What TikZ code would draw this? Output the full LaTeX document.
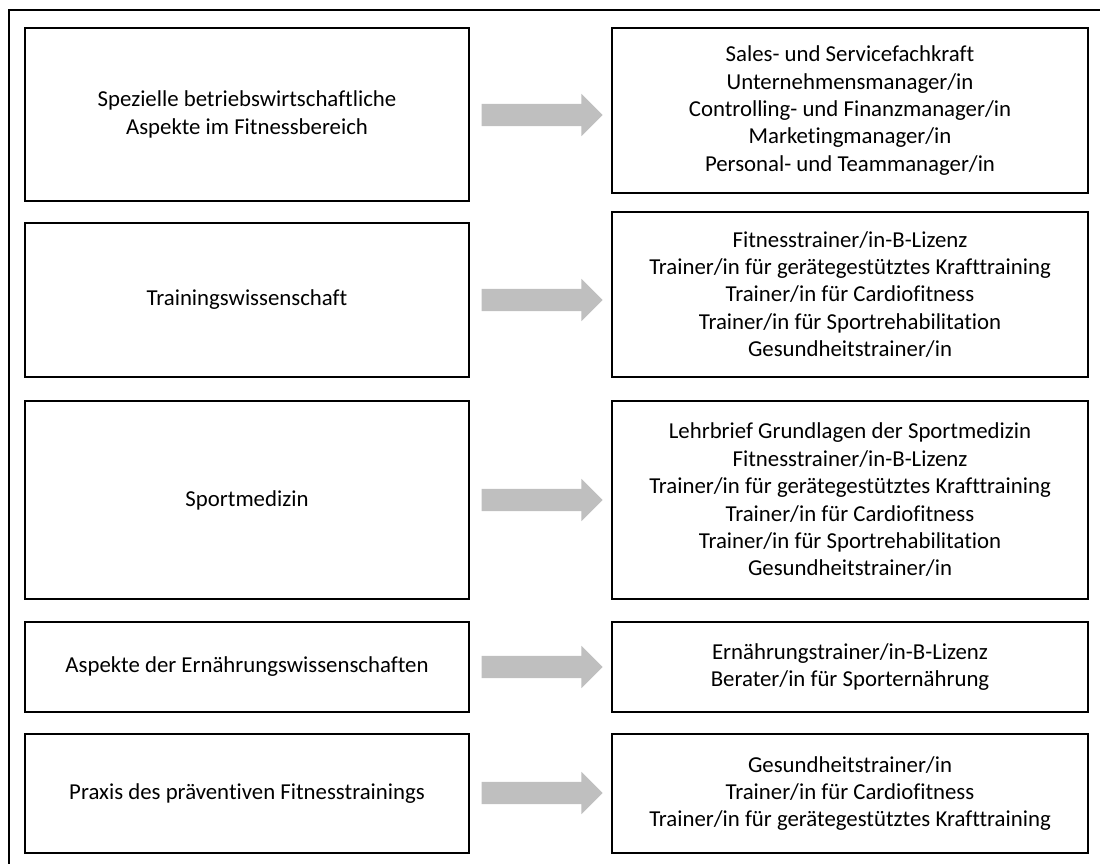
\documentclass[tikz,border=0pt]{standalone}
\usepackage{fontspec}
\setmainfont{Carlito}[Ligatures=NoCommon]
\usetikzlibrary{shapes.arrows}
\begin{document}
\begin{tikzpicture}[x=1pt,y=-1pt,
  box/.style={draw=black,line width=1.6pt,fill=white,align=center,inner sep=0pt,
    font=\fontsize{22.8}{27.4}\selectfont},
  lbox/.style={box,minimum width=444pt},
  rbox/.style={box,minimum width=476pt},
  blockarrow/.style={single arrow,fill=arrowgray,draw=none,inner sep=0pt,
    text height=22pt,text depth=0pt,
    minimum height=121pt,minimum width=42pt,single arrow head extend=10pt,
    single arrow tip angle=90},
  frame/.style={line width=2pt,draw=black}]
\definecolor{arrowgray}{HTML}{BFBFBF}
\useasboundingbox (0,0) rectangle (1100,864);
\draw[frame] (1101,10) -- (9,10) -- (9,865);
% row 1
\node[lbox,minimum height=173pt] (l1) at (247,114.5) {Spezielle betriebswirtschaftliche\\Aspekte im Fitnessbereich};
\node[rbox,minimum height=165pt] (r1) at (850,110.5) {Sales- und Servicefachkraft\\Unternehmensmanager/in\\Controlling- und Finanzmanager/in\\Marketingmanager/in\\Personal- und Teammanager/in};
\node[blockarrow] (a1) at (536.5,115) {};
% row 2
\node[lbox,minimum height=154pt] (l2) at (247,300) {Trainingswissenschaft};
\node[rbox,minimum height=165pt] (r2) at (850,294.5) {Fitnesstrainer/in-B-Lizenz\\Trainer/in für gerätegestütztes Krafttraining\\Trainer/in für Cardiofitness\\Trainer/in für Sportrehabilitation\\Gesundheitstrainer/in};
\node[blockarrow] (a2) at (536.5,300) {};
% row 3
\node[lbox,minimum height=198pt] (l3) at (247,500) {Sportmedizin};
\node[rbox,minimum height=198pt] (r3) at (850,500) {Lehrbrief Grundlagen der Sportmedizin\\Fitnesstrainer/in-B-Lizenz\\Trainer/in für gerätegestütztes Krafttraining\\Trainer/in für Cardiofitness\\Trainer/in für Sportrehabilitation\\Gesundheitstrainer/in};
\node[blockarrow] (a3) at (536.5,500) {};
% row 4
\node[lbox,minimum height=90pt] (l4) at (247,667) {Aspekte der Ernährungswissenschaften};
\node[rbox,minimum height=90pt] (r4) at (850,667) {Ernährungstrainer/in-B-Lizenz\\Berater/in für Sporternährung};
\node[blockarrow] (a4) at (536.5,667) {};
% row 5
\node[lbox,minimum height=119pt] (l5) at (247,793.5) {Praxis des präventiven Fitnesstrainings};
\node[rbox,minimum height=119pt] (r5) at (850,793.5) {Gesundheitstrainer/in\\Trainer/in für Cardiofitness\\Trainer/in für gerätegestütztes Krafttraining};
\node[blockarrow] (a5) at (536.5,793) {};
\end{tikzpicture}
\end{document}
